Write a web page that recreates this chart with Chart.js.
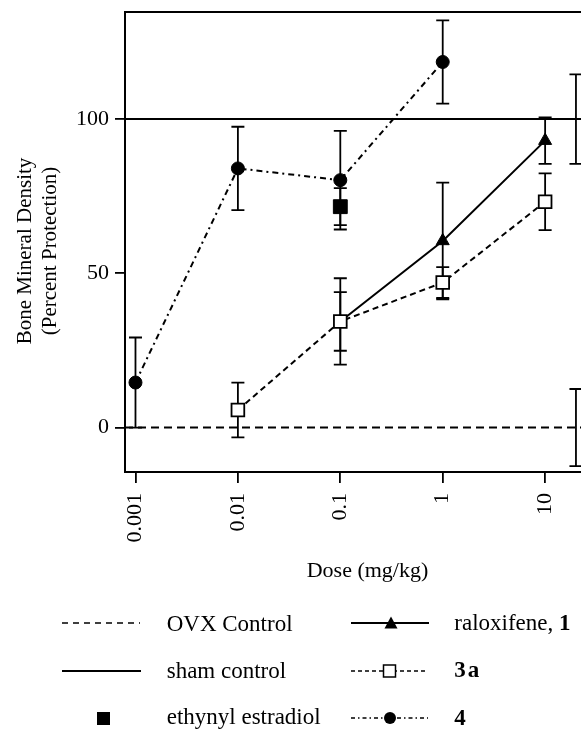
<!DOCTYPE html>
<html><head><meta charset="utf-8">
<script src="https://cdn.jsdelivr.net/npm/chart.js@4/dist/chart.umd.min.js"></script>
<style>
html,body{margin:0;padding:0;background:#fff;width:581px;height:730px;overflow:hidden;position:relative;}
#wrap{position:absolute;left:0;top:0;width:650px;height:600px;}
.t{position:absolute;font-family:"Liberation Serif","Times New Roman",serif;font-size:23px;line-height:23px;color:#000;white-space:nowrap;}
.t b{font-weight:bold;}
#ytitle{position:absolute;left:-92.6px;top:225.5px;width:260px;height:50px;font-family:"Liberation Serif","Times New Roman",serif;font-size:21px;line-height:25px;text-align:center;transform:rotate(-90deg);white-space:nowrap;color:#000;}
#leg{position:absolute;left:0;top:0;width:581px;height:730px;pointer-events:none;}
</style></head><body>
<div id="wrap"><canvas id="c" width="650" height="600"></canvas></div>
<div id="ytitle">Bone Mineral Density<br>(Percent Protection)</div>
<svg id="leg" width="581" height="730" xmlns="http://www.w3.org/2000/svg">
  <line x1="62" y1="623" x2="140" y2="623" stroke="#000" stroke-width="1.5" stroke-dasharray="6 5"/>
  <line x1="62" y1="671" x2="141" y2="671" stroke="#000" stroke-width="2"/>
  <rect x="97" y="712" width="13" height="13" fill="#000"/>
  <line x1="351" y1="623" x2="429" y2="623" stroke="#000" stroke-width="2"/>
  <polygon points="391,616.5 384.5,628.5 397.5,628.5" fill="#000"/>
  <line x1="351" y1="671" x2="428" y2="671" stroke="#000" stroke-width="1.5" stroke-dasharray="4 3"/>
  <rect x="383.5" y="665" width="12" height="12" fill="#fff" stroke="#000" stroke-width="1.5"/>
  <line x1="351" y1="718" x2="428" y2="718" stroke="#000" stroke-width="1.5" stroke-dasharray="4 3 1.5 3"/>
  <circle cx="390" cy="718" r="6" fill="#000"/>
</svg>
<div class="t" style="left:166.7px;top:611.7px">OVX Control</div>
<div class="t" style="left:166.7px;top:658.7px">sham control</div>
<div class="t" style="left:166.7px;top:704.7px">ethynyl estradiol</div>
<div class="t" style="left:454.3px;top:610.5px">raloxifene, <b>1</b></div>
<div class="t" style="left:454.3px;top:658.2px"><b style="letter-spacing:2px">3a</b></div>
<div class="t" style="left:454.3px;top:705.5px"><b>4</b></div>
<script>
// ---- data ----
const doses4 = [0.001, 0.01, 0.1, 1];
const values4 = [14.6, 84.0, 80.2, 118.5];
const errors4 = [14.6, 13.5, 16.0, 13.5];

const dosesRalox = [0.1, 1, 10];
const valuesRalox = [34.4, 60.5, 93.0];
const errorsRalox = [14.0, 18.9, 7.5];

const doses3a = [0.01, 0.1, 1, 10];
const values3a = [5.7, 34.4, 47.0, 73.2];
const errors3a = [8.9, 9.5, 5.0, 9.2];

const dosesEE = [0.1];
const valuesEE = [71.6];
const errorsEE = [6.0];

const controlLevels = [0, 100];      // OVX control, sham control
const controlErrors = [12.5, 14.5];
const controlDose = 20;

const xTickValues = [0.001, 0.01, 0.1, 1, 10];
const xTickLabels = ['0.001', '0.01', '0.1', '1', '10'];
const yTickValues = [0, 50, 100];
const xMin = 0.00079, xMax = 43;
const yMin = -14.4, yMax = 134.7;

const pts = (xs, ys) => xs.map((x, i) => ({x: x, y: ys[i]}));

const errorBars = {
  id: 'errorBars',
  beforeDatasetsDraw(chart) {
    const ctx = chart.ctx, ys = chart.scales.y;
    ctx.save();
    ctx.strokeStyle = '#000';
    ctx.lineWidth = 1.8;
    chart.data.datasets.forEach((ds, i) => {
      if (!ds.errors) return;
      const meta = chart.getDatasetMeta(i);
      meta.data.forEach((el, j) => {
        const v = ds.data[j].y, e = ds.errors[j];
        const x = el.x;
        const yt = ys.getPixelForValue(v + e), yb = ys.getPixelForValue(v - e);
        ctx.beginPath();
        ctx.moveTo(x, yt); ctx.lineTo(x, yb);
        ctx.moveTo(x - 6.5, yt); ctx.lineTo(x + 6.5, yt);
        ctx.moveTo(x - 6.5, yb); ctx.lineTo(x + 6.5, yb);
        ctx.stroke();
      });
    });
    ctx.restore();
  }
};
const frame = {
  id: 'frame',
  afterDraw(chart) {
    const {ctx, chartArea: a} = chart;
    ctx.save();
    ctx.strokeStyle = '#000';
    ctx.lineWidth = 2;
    ctx.strokeRect(a.left, a.top, a.right - a.left, a.bottom - a.top);
    ctx.restore();
  }
};

Chart.defaults.font.family = '"Liberation Serif", "Times New Roman", serif';
Chart.defaults.color = '#000';

new Chart(document.getElementById('c'), {
  type: 'scatter',
  data: {
    datasets: [
      {label: 'OVX Control', data: pts([xMin, xMax], [controlLevels[0], controlLevels[0]]), showLine: true,
       borderColor: '#000', borderWidth: 2, borderDash: [8, 5], pointRadius: 0, order: 10},
      {label: 'sham control', data: pts([xMin, xMax], [controlLevels[1], controlLevels[1]]), showLine: true,
       borderColor: '#000', borderWidth: 2, pointRadius: 0, order: 10},
      {label: 'control SD', data: pts([controlDose, controlDose], controlLevels), errors: controlErrors,
       showLine: false, pointRadius: 0, order: 9},
      {label: 'raloxifene, 1', data: pts(dosesRalox, valuesRalox), errors: errorsRalox, showLine: true,
       borderColor: '#000', borderWidth: 2, pointStyle: 'triangle', pointRadius: 7.5,
       pointBackgroundColor: '#000', pointBorderColor: '#000', pointBorderWidth: 1, order: 3},
      {label: '3a', data: pts(doses3a, values3a), errors: errors3a, showLine: true,
       borderColor: '#000', borderWidth: 2, borderDash: [6, 4], pointStyle: 'rect', pointRadius: 9,
       pointBackgroundColor: '#fff', pointBorderColor: '#000', pointBorderWidth: 1.8, order: 1},
      {label: '4', data: pts(doses4, values4), errors: errors4, showLine: true,
       borderColor: '#000', borderWidth: 2, borderDash: [6, 4, 2, 4], pointStyle: 'circle', pointRadius: 6.5,
       pointBackgroundColor: '#000', pointBorderColor: '#000', pointBorderWidth: 1, order: 2},
      {label: 'ethynyl estradiol', data: pts(dosesEE, valuesEE), errors: errorsEE, showLine: false,
       pointStyle: 'rect', pointRadius: 9.8, pointBackgroundColor: '#000', pointBorderColor: '#000',
       pointBorderWidth: 1, order: 1}
    ]
  },
  options: {
    responsive: false,
    animation: false,
    devicePixelRatio: 1,
    layout: {padding: {left: 0, top: 12, right: 40, bottom: 0}},
    plugins: {legend: {display: false}, tooltip: {enabled: false}},
    elements: {line: {tension: 0}},
    scales: {
      x: {
        type: 'logarithmic', min: xMin, max: xMax,
        afterBuildTicks: (axis) => { axis.ticks = xTickValues.map(v => ({value: v})); },
        afterFit: (axis) => { axis.height = 128; axis.paddingLeft = 0; axis.paddingRight = 0; },
        ticks: {
          autoSkip: false, maxRotation: 90, minRotation: 90, padding: 10,
          font: {size: 22}, color: '#000',
          callback: (v) => { const i = xTickValues.indexOf(v); return i >= 0 ? xTickLabels[i] : ''; }
        },
        grid: {display: true, drawOnChartArea: false, drawTicks: true, tickLength: 11, color: '#000', lineWidth: 1.8},
        border: {display: true, color: '#000', width: 2},
        title: {display: true, text: 'Dose (mg/kg)', font: {size: 22}, color: '#000', padding: {top: 0, bottom: 16}}
      },
      y: {
        type: 'linear', min: yMin, max: yMax,
        afterBuildTicks: (axis) => { axis.ticks = yTickValues.map(v => ({value: v})); },
        afterFit: (axis) => { axis.width = 125; axis.paddingTop = 0; axis.paddingBottom = 0; },
        ticks: {padding: 6, font: {size: 22}, color: '#000', callback: (v) => String(v)},
        grid: {display: true, drawOnChartArea: false, drawTicks: true, tickLength: 10, color: '#000', lineWidth: 1.8},
        border: {display: true, color: '#000', width: 2},
        title: {display: false}
      }
    }
  },
  plugins: [errorBars, frame]
});
</script>
</body></html>
